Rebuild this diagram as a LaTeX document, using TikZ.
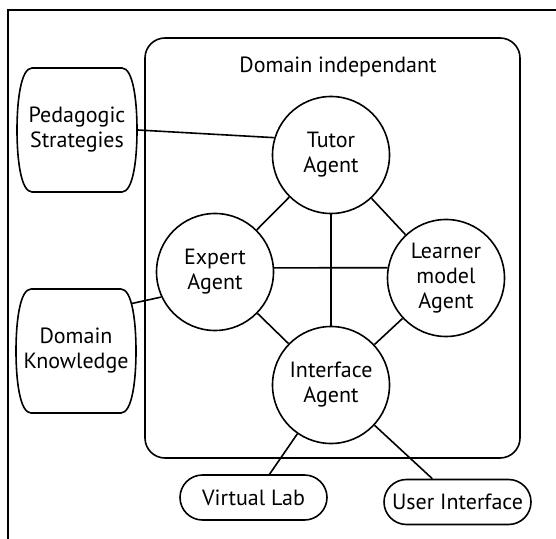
\documentclass[tikz,border=0pt]{standalone}
\usepackage{fontspec}
\setmainfont{PT Sans}
\usetikzlibrary{shapes.misc}
\newcommand\barrel[1]{\draw[shift={(#1.center)}] (-45,-62) -- (45,-62)
    .. controls (56,-62) and (60,-30) .. (60,0) .. controls (60,30) and (56,62) .. (45,62)
    -- (-45,62) .. controls (-56,62) and (-60,30) .. (-60,0) .. controls (-60,-30) and (-56,-62) .. (-45,-62) -- cycle;}
\begin{document}
\begin{tikzpicture}[x=0.5pt, y=-0.5pt, line width=0.8pt,
        font=\fontsize{11}{12.5}\selectfont,
        agent/.style={draw, circle, inner sep=0pt, minimum size=58.5pt, align=center},
        store/.style={rectangle, inner sep=0pt, minimum width=60pt, minimum height=62pt, align=center},
        ext/.style={draw, rounded rectangle, inner sep=0pt, minimum width=73.5pt, minimum height=22.5pt}]
        \clip (0,0) rectangle (556,539);
        \draw[line width=1.1pt] (8,560) -- (8,10) -- (580,10);
        \node[draw, rounded corners=10pt, minimum width=187.5pt, minimum height=210pt] (indep) at (332.5,248) {};
        \node (indeplabel) at (338,67) {Domain independant};
        \node[agent] (tutor) at (331,155) {Tutor\\Agent};
        \node[agent] (expert) at (215,272) {Expert\\Agent};
        \node[agent] (learner) at (446,278) {Learner\\model\\Agent};
        \node[agent] (interface) at (331,385) {Interface\\Agent};
        \node[store] (pedagogic) at (77,130) {Pedagogic\\Strategies};
        \node[store] (knowledge) at (76,351) {Domain\\Knowledge};
        \barrel{pedagogic}
        \barrel{knowledge}
        \node[ext] (vlab) at (253.5,497.5) {Virtual Lab};
        \node[ext] (uinterface) at (457.5,502) {User Interface};
        \draw (pedagogic.east) -- (tutor.163);
        \draw ([xshift=-2.5pt]knowledge.38) -- (expert.205);
        \draw (expert) -- (tutor);
        \draw (tutor) -- (learner);
        \draw (tutor) -- (interface);
        \draw (expert.4) -- (learner.170);
        \draw (expert) -- (interface);
        \draw (learner) -- (interface);
        \draw (interface) -- (vlab);
        \draw (interface) -- (uinterface);
    \end{tikzpicture}
\end{document}
